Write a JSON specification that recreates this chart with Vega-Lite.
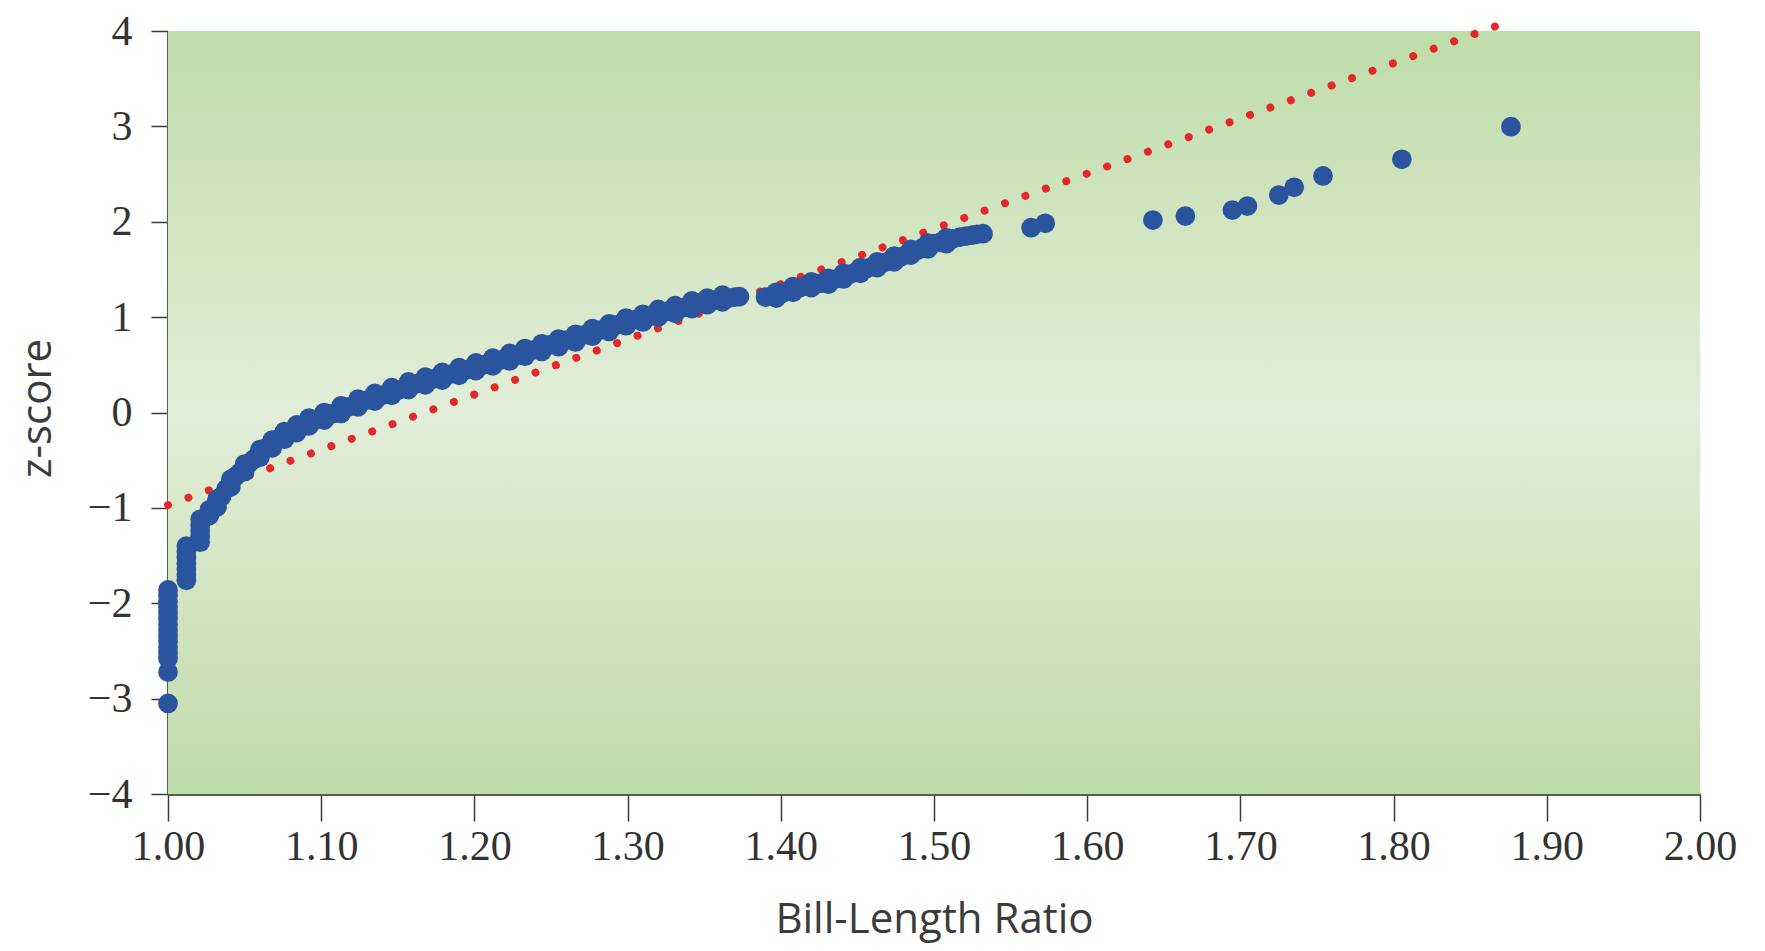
{
  "$schema": "https://vega.github.io/schema/vega-lite/v6.json",
  "width": 1532,
  "height": 763,
  "autosize": {"type": "none"},
  "padding": {"left": 168, "top": 31, "right": 65, "bottom": 157},
  "background": "#ffffff",
  "datasets": {
    "bg": [{"x": 1.0, "x2": 2.0, "y": -4, "y2": 4}],
    "ref": [{"x": 1.0, "z": -0.97}, {"x": 1.872, "z": 4.08}],
    "pts": [
      {"x": 1.000, "z": -3.05}, {"x": 1.000, "z": -2.72}, {"x": 1.000, "z": -2.58}, {"x": 1.000, "z": -2.52},
      {"x": 1.000, "z": -2.46}, {"x": 1.000, "z": -2.40}, {"x": 1.000, "z": -2.34}, {"x": 1.000, "z": -2.28},
      {"x": 1.000, "z": -2.22}, {"x": 1.000, "z": -2.16}, {"x": 1.000, "z": -2.10}, {"x": 1.000, "z": -2.04},
      {"x": 1.000, "z": -1.98}, {"x": 1.000, "z": -1.92}, {"x": 1.000, "z": -1.86},
      {"x": 1.012, "z": -1.76}, {"x": 1.012, "z": -1.70}, {"x": 1.012, "z": -1.64}, {"x": 1.012, "z": -1.58},
      {"x": 1.012, "z": -1.52}, {"x": 1.012, "z": -1.46}, {"x": 1.012, "z": -1.40},
      {"x": 1.021, "z": -1.36}, {"x": 1.021, "z": -1.30}, {"x": 1.021, "z": -1.24}, {"x": 1.021, "z": -1.18},
      {"x": 1.021, "z": -1.12}, {"x": 1.027, "z": -1.08}, {"x": 1.027, "z": -1.02},
      {"x": 1.032, "z": -0.95}, {"x": 1.035, "z": -0.88}, {"x": 1.038, "z": -0.80}, {"x": 1.041, "z": -0.74},
      {"x": 1.044, "z": -0.67}, {"x": 1.047, "z": -0.63}, {"x": 1.050, "z": -0.58}, {"x": 1.053, "z": -0.53},
      {"x": 1.056, "z": -0.49}, {"x": 1.060, "z": -0.43}, {"x": 1.064, "z": -0.37}, {"x": 1.068, "z": -0.33},
      {"x": 1.072, "z": -0.28}, {"x": 1.076, "z": -0.24}, {"x": 1.080, "z": -0.21}, {"x": 1.084, "z": -0.17},
      {"x": 1.088, "z": -0.14}, {"x": 1.092, "z": -0.10}, {"x": 1.096, "z": -0.08}, {"x": 1.102, "z": -0.04},
      {"x": 1.108, "z": -0.01}, {"x": 1.113, "z": 0.03}, {"x": 1.118, "z": 0.06}, {"x": 1.124, "z": 0.10},
      {"x": 1.130, "z": 0.13}, {"x": 1.135, "z": 0.16}, {"x": 1.140, "z": 0.18}, {"x": 1.146, "z": 0.22},
      {"x": 1.151, "z": 0.24}, {"x": 1.157, "z": 0.28}, {"x": 1.162, "z": 0.30}, {"x": 1.168, "z": 0.33},
      {"x": 1.173, "z": 0.35}, {"x": 1.179, "z": 0.38}, {"x": 1.184, "z": 0.40}, {"x": 1.190, "z": 0.43},
      {"x": 1.195, "z": 0.45}, {"x": 1.201, "z": 0.48}, {"x": 1.206, "z": 0.50}, {"x": 1.212, "z": 0.53},
      {"x": 1.217, "z": 0.55}, {"x": 1.223, "z": 0.58}, {"x": 1.228, "z": 0.60}, {"x": 1.233, "z": 0.63},
      {"x": 1.2385, "z": 0.655}, {"x": 1.244, "z": 0.68}, {"x": 1.249, "z": 0.71}, {"x": 1.255, "z": 0.73},
      {"x": 1.260, "z": 0.76}, {"x": 1.266, "z": 0.78}, {"x": 1.271, "z": 0.81}, {"x": 1.277, "z": 0.84},
      {"x": 1.282, "z": 0.865}, {"x": 1.288, "z": 0.89}, {"x": 1.293, "z": 0.92}, {"x": 1.299, "z": 0.95},
      {"x": 1.304, "z": 0.97}, {"x": 1.310, "z": 0.99}, {"x": 1.315, "z": 1.01}, {"x": 1.320, "z": 1.04},
      {"x": 1.3255, "z": 1.06}, {"x": 1.331, "z": 1.08}, {"x": 1.336, "z": 1.10}, {"x": 1.342, "z": 1.13},
      {"x": 1.347, "z": 1.15}, {"x": 1.352, "z": 1.165}, {"x": 1.358, "z": 1.18}, {"x": 1.362, "z": 1.19},
      {"x": 1.366, "z": 1.20}, {"x": 1.370, "z": 1.21}, {"x": 1.373, "z": 1.215},
      {"x": 1.390, "z": 1.21}, {"x": 1.394, "z": 1.22}, {"x": 1.397, "z": 1.23}, {"x": 1.401, "z": 1.25},
      {"x": 1.404, "z": 1.27}, {"x": 1.408, "z": 1.29}, {"x": 1.4125, "z": 1.31}, {"x": 1.416, "z": 1.325},
      {"x": 1.420, "z": 1.34}, {"x": 1.424, "z": 1.35}, {"x": 1.427, "z": 1.36}, {"x": 1.431, "z": 1.375},
      {"x": 1.434, "z": 1.39}, {"x": 1.438, "z": 1.41}, {"x": 1.441, "z": 1.43}, {"x": 1.445, "z": 1.45},
      {"x": 1.449, "z": 1.47}, {"x": 1.452, "z": 1.49}, {"x": 1.456, "z": 1.51}, {"x": 1.460, "z": 1.53},
      {"x": 1.463, "z": 1.55}, {"x": 1.467, "z": 1.57}, {"x": 1.471, "z": 1.59}, {"x": 1.474, "z": 1.61},
      {"x": 1.478, "z": 1.63}, {"x": 1.482, "z": 1.655}, {"x": 1.485, "z": 1.68}, {"x": 1.489, "z": 1.70},
      {"x": 1.492, "z": 1.72}, {"x": 1.496, "z": 1.745}, {"x": 1.4995, "z": 1.77}, {"x": 1.504, "z": 1.785},
      {"x": 1.508, "z": 1.80}, {"x": 1.512, "z": 1.82}, {"x": 1.517, "z": 1.84}, {"x": 1.521, "z": 1.85},
      {"x": 1.525, "z": 1.86}, {"x": 1.528, "z": 1.868}, {"x": 1.532, "z": 1.875},
      {"x": 1.032, "z": -0.91}, {"x": 1.032, "z": -0.99}, {"x": 1.041, "z": -0.70}, {"x": 1.041, "z": -0.78},
      {"x": 1.050, "z": -0.54}, {"x": 1.050, "z": -0.62}, {"x": 1.060, "z": -0.39}, {"x": 1.060, "z": -0.47},
      {"x": 1.068, "z": -0.29}, {"x": 1.068, "z": -0.37}, {"x": 1.076, "z": -0.20}, {"x": 1.076, "z": -0.28},
      {"x": 1.084, "z": -0.13}, {"x": 1.084, "z": -0.21}, {"x": 1.092, "z": -0.06}, {"x": 1.092, "z": -0.14},
      {"x": 1.102, "z": 0.00}, {"x": 1.102, "z": -0.08}, {"x": 1.113, "z": 0.07}, {"x": 1.113, "z": -0.01},
      {"x": 1.124, "z": 0.14}, {"x": 1.124, "z": 0.06}, {"x": 1.135, "z": 0.20}, {"x": 1.135, "z": 0.12},
      {"x": 1.146, "z": 0.26}, {"x": 1.146, "z": 0.18}, {"x": 1.157, "z": 0.32}, {"x": 1.157, "z": 0.24},
      {"x": 1.168, "z": 0.37}, {"x": 1.168, "z": 0.29}, {"x": 1.179, "z": 0.42}, {"x": 1.179, "z": 0.34},
      {"x": 1.190, "z": 0.47}, {"x": 1.190, "z": 0.39}, {"x": 1.201, "z": 0.52}, {"x": 1.201, "z": 0.44},
      {"x": 1.212, "z": 0.57}, {"x": 1.212, "z": 0.49}, {"x": 1.223, "z": 0.62}, {"x": 1.223, "z": 0.54},
      {"x": 1.233, "z": 0.67}, {"x": 1.233, "z": 0.59}, {"x": 1.244, "z": 0.72}, {"x": 1.244, "z": 0.64},
      {"x": 1.255, "z": 0.77}, {"x": 1.255, "z": 0.69}, {"x": 1.266, "z": 0.82}, {"x": 1.266, "z": 0.74},
      {"x": 1.277, "z": 0.88}, {"x": 1.277, "z": 0.80}, {"x": 1.288, "z": 0.93}, {"x": 1.288, "z": 0.85},
      {"x": 1.299, "z": 0.99}, {"x": 1.299, "z": 0.91}, {"x": 1.310, "z": 1.03}, {"x": 1.310, "z": 0.95},
      {"x": 1.320, "z": 1.08}, {"x": 1.320, "z": 1.00}, {"x": 1.331, "z": 1.12}, {"x": 1.331, "z": 1.04},
      {"x": 1.342, "z": 1.17}, {"x": 1.342, "z": 1.09}, {"x": 1.352, "z": 1.20}, {"x": 1.352, "z": 1.13},
      {"x": 1.362, "z": 1.23}, {"x": 1.362, "z": 1.16}, {"x": 1.397, "z": 1.26}, {"x": 1.397, "z": 1.20},
      {"x": 1.408, "z": 1.32}, {"x": 1.408, "z": 1.26}, {"x": 1.420, "z": 1.37}, {"x": 1.420, "z": 1.31},
      {"x": 1.431, "z": 1.405}, {"x": 1.431, "z": 1.345}, {"x": 1.441, "z": 1.46}, {"x": 1.441, "z": 1.40},
      {"x": 1.452, "z": 1.52}, {"x": 1.452, "z": 1.46}, {"x": 1.463, "z": 1.58}, {"x": 1.463, "z": 1.52},
      {"x": 1.474, "z": 1.64}, {"x": 1.474, "z": 1.58}, {"x": 1.485, "z": 1.71}, {"x": 1.485, "z": 1.65},
      {"x": 1.496, "z": 1.775}, {"x": 1.496, "z": 1.715}, {"x": 1.508, "z": 1.83}, {"x": 1.508, "z": 1.77},
      {"x": 1.5634, "z": 1.938}, {"x": 1.5726, "z": 1.984}, {"x": 1.6429, "z": 2.018}, {"x": 1.6641, "z": 2.060},
      {"x": 1.6948, "z": 2.123}, {"x": 1.7046, "z": 2.165}, {"x": 1.7251, "z": 2.280}, {"x": 1.7351, "z": 2.361},
      {"x": 1.7539, "z": 2.480}, {"x": 1.8054, "z": 2.655}, {"x": 1.8766, "z": 2.997}
    ]
  },
  "layer": [
    {
      "data": {"name": "bg"},
      "mark": {
        "type": "rect",
        "fill": {
          "gradient": "linear", "x1": 0, "y1": 0, "x2": 0, "y2": 1,
          "stops": [
            {"offset": 0, "color": "#bfdca9"},
            {"offset": 0.5, "color": "#e2eed8"},
            {"offset": 1, "color": "#bfdba8"}
          ]
        }
      },
      "encoding": {
        "x": {
          "field": "x", "type": "quantitative", "title": "Bill-Length Ratio",
          "scale": {"domain": [1, 2], "zero": false, "nice": false},
          "axis": {
            "values": [1.0, 1.1, 1.2, 1.3, 1.4, 1.5, 1.6, 1.7, 1.8, 1.9, 2.0],
            "format": ".2f",
            "tickSize": 27,
            "labelPadding": 5,
            "titleY": 138,
            "titleBaseline": "alphabetic"
          }
        },
        "x2": {"field": "x2"},
        "y": {
          "field": "y", "type": "quantitative", "title": "z-score",
          "scale": {"domain": [-4, 4], "zero": false, "nice": false},
          "axis": {
            "values": [-4, -3, -2, -1, 0, 1, 2, 3, 4],
            "format": "d",
            "tickSize": 17,
            "labelPadding": 19,
            "titleAngle": -90,
            "titleX": -118,
            "titleY": 377,
            "titleAlign": "center",
            "titleBaseline": "alphabetic"
          }
        },
        "y2": {"field": "y2"}
      }
    },
    {
      "data": {"name": "ref"},
      "mark": {"type": "line", "color": "#e5262b", "strokeWidth": 8, "strokeCap": "round", "strokeDash": [0.001, 21.7], "clip": false},
      "encoding": {
        "x": {"field": "x", "type": "quantitative", "title": "Bill-Length Ratio"},
        "y": {"field": "z", "type": "quantitative", "title": "z-score"}
      }
    },
    {
      "data": {"name": "pts"},
      "mark": {"type": "circle", "color": "#2a549e", "opacity": 1, "size": 390, "clip": false},
      "encoding": {
        "x": {"field": "x", "type": "quantitative", "title": "Bill-Length Ratio"},
        "y": {"field": "z", "type": "quantitative", "title": "z-score"}
      }
    }
  ],
  "config": {
    "view": {"stroke": null},
    "axis": {
      "grid": false,
      "domainColor": "#55614f",
      "domainWidth": 3,
      "tickColor": "#3a3a3a",
      "tickWidth": 1.5,
      "labelFont": "Liberation Serif",
      "labelFontSize": 42,
      "labelColor": "#333333",
      "titleFont": "Open Sans",
      "titleFontSize": 42,
      "titleFontWeight": "normal",
      "titleColor": "#3b3b3b",
      "labelOverlap": false,
      "labelFlush": false
    }
  }
}
